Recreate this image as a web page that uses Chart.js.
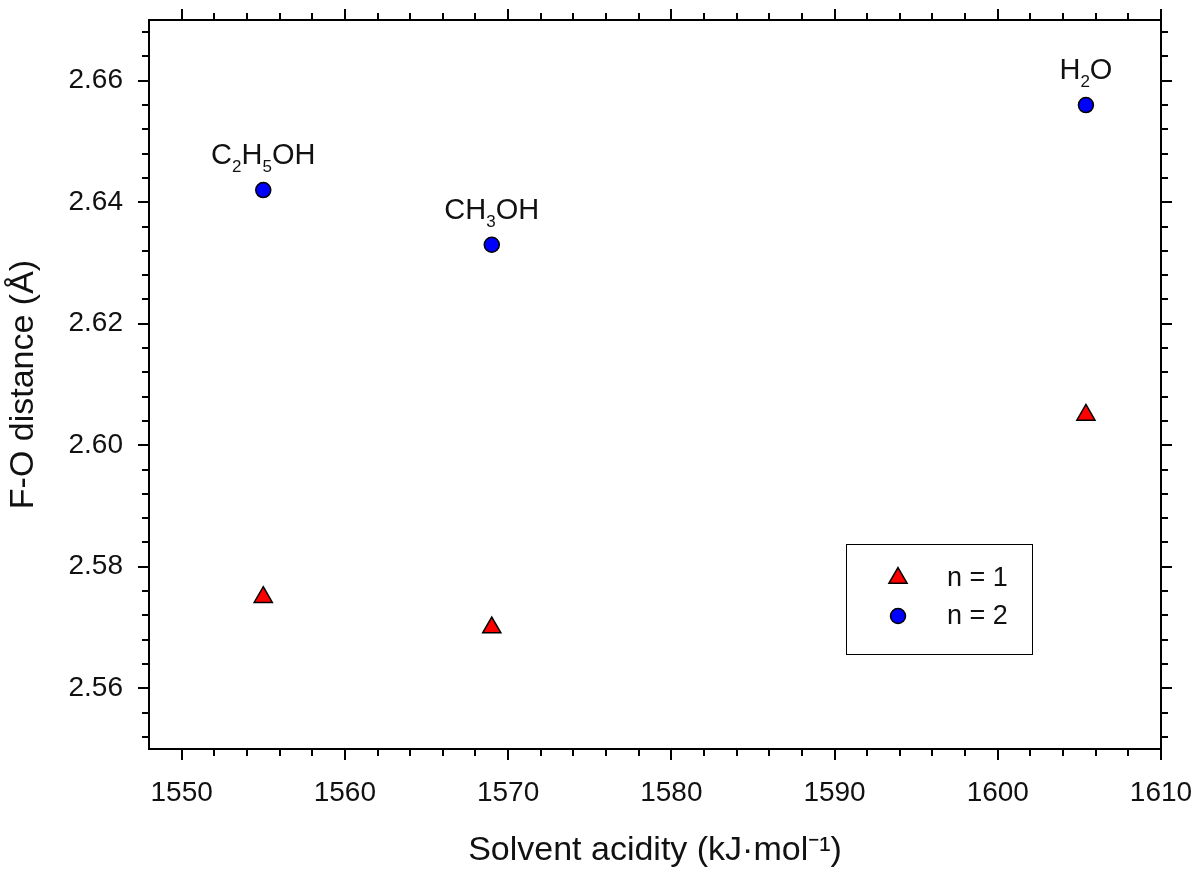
<!DOCTYPE html>
<html>
<head>
<meta charset="utf-8">
<script src="https://cdn.jsdelivr.net/npm/chart.js@4.4.0/dist/chart.umd.min.js"></script>
<style>
   html, body { margin: 0; padding: 0; background: #fff; }
</style>
</head>
<body>
<canvas id="chart__1" width="1196" height="874"></canvas>
<script>
// DATA
const solventAcidity = [1555.0, 1569.0, 1605.4];
const distanceN1 = [2.575, 2.570, 2.605];
const distanceN2 = [2.642, 2.633, 2.656];
const solventNames = ["C2H5OH", "CH3OH", "H2O"];
const seriesNames = ["n = 1", "n = 2"];
const xTicksMajor = [1550, 1560, 1570, 1580, 1590, 1600, 1610];
const yTicksMajor = [2.56, 2.58, 2.60, 2.62, 2.64, 2.66];

const FONT = "'Liberation Sans', Arial, sans-serif";

// frame + major/minor ticks on all four sides
const frameTicks = {
   id: "frameTicks",
   afterDraw(chart) {
      const { ctx, chartArea: a, scales } = chart;
      const x = scales.x, y = scales.y;
      ctx.save();
      ctx.strokeStyle = "#000";
      ctx.lineWidth = 2;
      ctx.strokeRect(a.left, a.top, a.right - a.left, a.bottom - a.top);
      ctx.beginPath();
      for (let i = 1; i <= 31; i++) {
         const v = 1548 + 2 * i;
         const len = v % 10 === 0 ? 11 : 7;
         const px = Math.round(x.getPixelForValue(v));
         ctx.moveTo(px, a.bottom);
         ctx.lineTo(px, a.bottom + len);
         ctx.moveTo(px, a.top);
         ctx.lineTo(px, a.top - len);
      }
      for (let i = 0; i <= 29; i++) {
         const v = 2.552 + 0.004 * i;
         const len = i % 5 === 2 ? 11 : 7;
         const py = Math.round(y.getPixelForValue(v));
         ctx.moveTo(a.left, py);
         ctx.lineTo(a.left - len, py);
         ctx.moveTo(a.right, py);
         ctx.lineTo(a.right + len, py);
      }
      ctx.stroke();
      ctx.restore();
   },
};

// formula labels above the n = 2 points (digits as subscripts)
const formulaLabels = {
   id: "formulaLabels",
   afterDatasetsDraw(chart) {
      const ctx = chart.ctx;
      const pts = chart.getDatasetMeta(1).data;
      ctx.save();
      ctx.fillStyle = "#111";
      ctx.textBaseline = "alphabetic";
      solventNames.forEach((name, i) => {
         const parts = name.match(/[A-Za-z]+|\d+/g);
         let w = 0;
         parts.forEach((p) => {
            ctx.font = /\d/.test(p) ? "17px " + FONT : "29px " + FONT;
            w += ctx.measureText(p).width;
         });
         let cx = pts[i].x - w / 2;
         const base = pts[i].y - 26;
         parts.forEach((p) => {
            const sub = /\d/.test(p);
            ctx.font = sub ? "17px " + FONT : "29px " + FONT;
            ctx.fillText(p, cx, sub ? base + 8 : base);
            cx += ctx.measureText(p).width;
         });
      });
      ctx.restore();
   },
};

// boxed legend inside the plot
const boxLegend = {
   id: "boxLegend",
   afterDatasetsDraw(chart, args, opts) {
      const ctx = chart.ctx;
      ctx.save();
      ctx.strokeStyle = "#000";
      ctx.lineWidth = 1;
      ctx.strokeRect(opts.left + 0.5, opts.top + 0.5, opts.width, opts.height);
      ctx.font = "27px " + FONT;
      ctx.textBaseline = "middle";
      chart.data.datasets.forEach((ds, i) => {
         const ly = opts.top + opts.rowTop + i * opts.rowGap;
         ctx.fillStyle = ds.backgroundColor;
         ctx.strokeStyle = ds.borderColor;
         ctx.lineWidth = ds.borderWidth;
         Chart.helpers.drawPoint(ctx, {
            pointStyle: ds.pointStyle,
            radius: ds.pointRadius,
            rotation: 0,
            borderWidth: ds.borderWidth,
         }, opts.left + opts.markerX, ly);
         ctx.fillStyle = "#111";
         ctx.fillText(seriesNames[i], opts.left + opts.textX, ly + 1);
      });
      ctx.restore();
   },
};

const ctx1 = document.getElementById("chart__1").getContext("2d");
window.chart1 = new Chart(ctx1, {
   type: "scatter",
   data: {
      datasets: [
         {
            label: seriesNames[0],
            data: solventAcidity.map((v, i) => ({ x: v, y: distanceN1[i] })),
            pointStyle: "triangle",
            pointRadius: 10.5,
            backgroundColor: "#ff0000",
            borderColor: "#000",
            borderWidth: 1.5,
         },
         {
            label: seriesNames[1],
            data: solventAcidity.map((v, i) => ({ x: v, y: distanceN2[i] })),
            pointStyle: "circle",
            pointRadius: 7.5,
            backgroundColor: "#0000ff",
            borderColor: "#000",
            borderWidth: 1.5,
         },
      ],
   },
   options: {
      responsive: false,
      animation: false,
      events: [],
      layout: { padding: { top: 20, right: 35, left: 0, bottom: 0 } },
      plugins: {
         legend: { display: false },
         tooltip: { enabled: false },
         boxLegend: { left: 846, top: 544, width: 186, height: 110, markerX: 52, textX: 101, rowTop: 34, rowGap: 38 },
      },
      scales: {
         x: {
            type: "linear",
            min: 1548,
            max: 1610,
            afterBuildTicks: (s) => { s.ticks = xTicksMajor.map((v) => ({ value: v })); },
            afterFit: (s) => {
               s.height = 125;
               s.paddingLeft = 0;
               s.paddingRight = 0;
            },
            grid: { display: false, drawTicks: false },
            border: { display: false },
            ticks: {
               color: "#111",
               font: { family: FONT, size: 28 },
               padding: 27,
               maxRotation: 0,
               callback: (v) => String(v),
            },
            title: {
               display: true,
               text: "Solvent acidity (kJ·mol⁻¹)",
               color: "#111",
               font: { family: FONT, size: 34 },
               padding: { top: 0, bottom: 3 },
            },
         },
         y: {
            type: "linear",
            min: 2.55,
            max: 2.67,
            afterBuildTicks: (s) => { s.ticks = yTicksMajor.map((v) => ({ value: v })); },
            afterFit: (s) => {
               s.width = 149;
               s.paddingTop = 0;
               s.paddingBottom = 0;
            },
            grid: { display: false, drawTicks: false },
            border: { display: false },
            ticks: {
               color: "#111",
               font: { family: FONT, size: 28 },
               padding: 26,
               callback: (v) => v.toFixed(2),
            },
            title: {
               display: true,
               text: "F-O distance (Å)",
               color: "#111",
               font: { family: FONT, size: 34 },
               padding: { top: 3, bottom: 0 },
            },
         },
      },
   },
   plugins: [frameTicks, formulaLabels, boxLegend],
});
</script>
</body>
</html>
